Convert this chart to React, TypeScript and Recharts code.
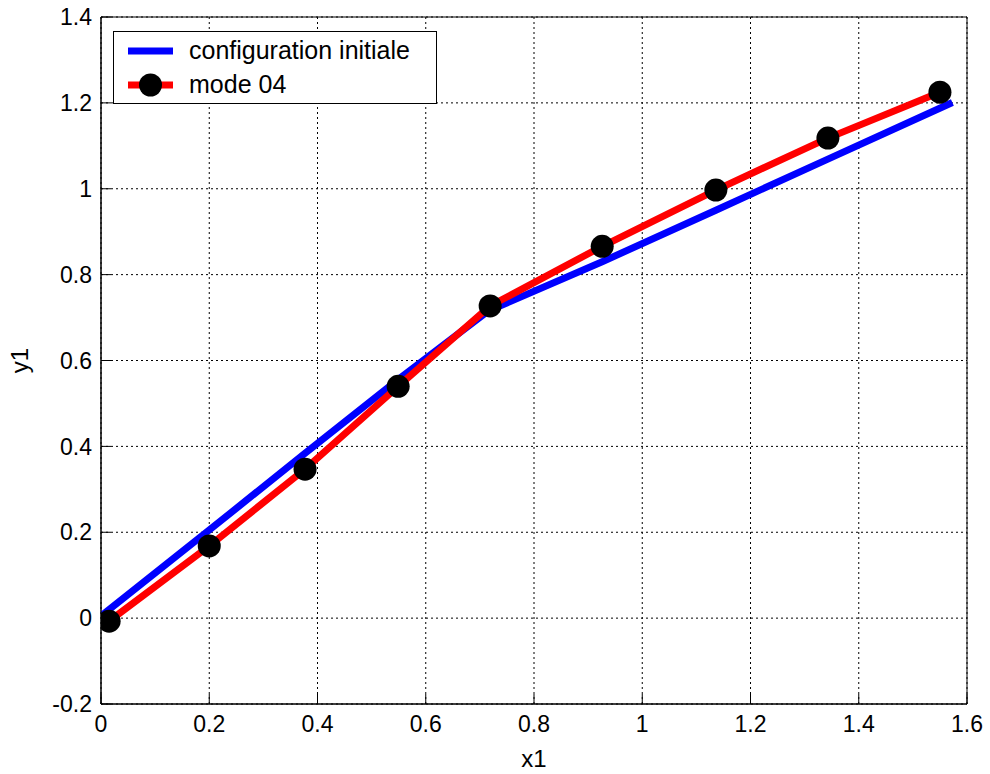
import React from 'react';
import { LineChart, Line, XAxis, YAxis, CartesianGrid, Legend, ReferenceArea, Label } from 'recharts';

const xTicks = [0, 0.2, 0.4, 0.6, 0.8, 1, 1.2, 1.4, 1.6];
const yTicks = [-0.2, 0, 0.2, 0.4, 0.6, 0.8, 1, 1.2, 1.4];

// configuration initiale (blue)
const initialX = [0.003, 0.2, 0.377, 0.549, 0.715, 0.926, 1.136, 1.343, 1.573];
const initialY = [0.008, 0.205, 0.384, 0.556, 0.715, 0.83, 0.95, 1.069, 1.201];

// mode 04 (red with black dots)
const modeX = [0.015, 0.2, 0.377, 0.549, 0.719, 0.926, 1.136, 1.343, 1.55];
const modeY = [-0.007, 0.168, 0.347, 0.54, 0.727, 0.866, 0.997, 1.118, 1.225];

const initialData = initialX.map((x, i) => ({ x, y: initialY[i] }));
const modeData = modeX.map((x, i) => ({ x, y: modeY[i] }));

const FONT = '"Liberation Sans", Arial, Helvetica, sans-serif';
const fmt = (v: number) => `${Math.round(v * 10) / 10}`;

const LegendBox = () => (
    <div style={{
        width: 324, height: 73, boxSizing: 'border-box', border: '1px solid black',
        background: 'white', fontFamily: FONT, fontSize: 25, color: 'black', position: 'relative'
    }}>
        <svg width={50} height={73} style={{ position: 'absolute', left: 10, top: 0 }}>
            <line x1={4} x2={49} y1={19} y2={19} stroke="#0000ff" strokeWidth={7} />
            <line x1={4} x2={49} y1={53} y2={53} stroke="#ff0000" strokeWidth={7} />
            <circle cx={26.5} cy={53} r={11.5} fill="black" />
        </svg>
        <div style={{ position: 'absolute', left: 75, top: 3, lineHeight: '30px' }}>configuration initiale</div>
        <div style={{ position: 'absolute', left: 75, top: 37, lineHeight: '30px' }}>mode 04</div>
    </div>
);

const App: React.FC = () => {
    return (
        <div style={{ position: 'absolute', left: 0, top: 0, width: 990, height: 774, background: 'white' }}>
            <LineChart
                width={990}
                height={774}
                margin={{ top: 17, right: 23, left: 0, bottom: 0 }}
                style={{ fontFamily: FONT }}
            >
                <CartesianGrid stroke="black" strokeDasharray="2 3" strokeWidth={1} />
                <XAxis
                    dataKey="x"
                    type="number"
                    domain={[0, 1.6]}
                    ticks={xTicks}
                    tickFormatter={fmt}
                    height={70}
                    allowDataOverflow
                    stroke="black"
                    tickSize={-10}
                    tickMargin={22}
                    tick={{ fill: 'black', fontSize: 23 }}
                >
                    <Label content={({ viewBox }: any) => (
                        <text x={viewBox.x + viewBox.width / 2} y={767} textAnchor="middle"
                            fontSize={24} fill="black" fontFamily={FONT}>x1</text>
                    )} />
                </XAxis>
                <XAxis xAxisId="top" orientation="top" type="number" domain={[0, 1.6]} ticks={xTicks}
                    height={0} stroke="black" tickSize={-10} tickFormatter={() => ''} />
                <YAxis
                    type="number"
                    domain={[-0.2, 1.4]}
                    ticks={yTicks}
                    tickFormatter={fmt}
                    width={101}
                    allowDataOverflow
                    stroke="black"
                    tickSize={-10}
                    tickMargin={19}
                    tick={{ fill: 'black', fontSize: 23 }}
                >
                    <Label content={({ viewBox }: any) => {
                        const cy = viewBox.y + viewBox.height / 2;
                        return (
                            <text x={28} y={cy} transform={`rotate(-90, 28, ${cy})`} textAnchor="middle"
                                fontSize={24} fill="black" fontFamily={FONT}>y1</text>
                        );
                    }} />
                </YAxis>
                <YAxis yAxisId="right" orientation="right" type="number" domain={[-0.2, 1.4]} ticks={yTicks}
                    width={0} stroke="black" tickSize={-10} tickFormatter={() => ''} />
                <ReferenceArea x1={0} x2={1.6} y1={-0.2} y2={1.4} fill="none" stroke="black" strokeWidth={1} />
                <Legend
                    layout="vertical"
                    align="center"
                    verticalAlign="middle"
                    wrapperStyle={{ left: 113, top: 31, width: 324, height: 73 }}
                    content={() => <LegendBox />}
                />
                <Line
                    data={initialData}
                    dataKey="y"
                    type="linear"
                    stroke="#0000ff"
                    strokeWidth={7}
                    dot={false}
                    activeDot={false}
                    name="configuration initiale"
                    isAnimationActive={false}
                />
                <Line
                    data={modeData}
                    dataKey="y"
                    type="linear"
                    stroke="#ff0000"
                    strokeWidth={7}
                    dot={{ r: 11.5, fill: 'black', stroke: 'none' }}
                    activeDot={false}
                    name="mode 04"
                    isAnimationActive={false}
                />
            </LineChart>
        </div>
    );
};

export default App;
